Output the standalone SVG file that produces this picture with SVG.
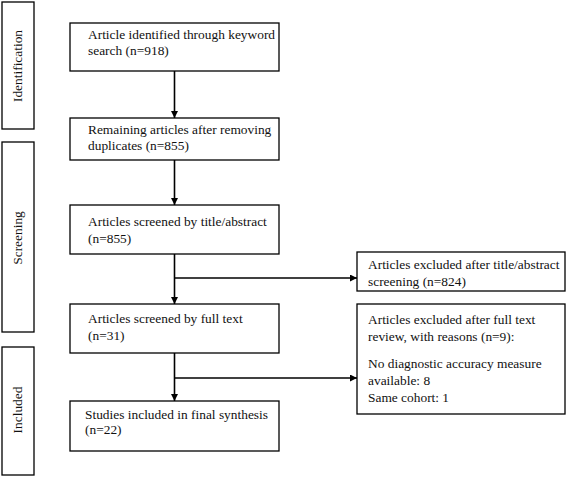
<svg xmlns="http://www.w3.org/2000/svg" width="567" height="477" viewBox="0 0 567 477">
<defs>
<style>
.b{fill:#fff;stroke:#000;stroke-width:1.3}
.t{font-family:"Liberation Serif","Times New Roman",serif;font-size:13.4px;fill:#111}
.c{fill:none;stroke:#000;stroke-width:1.6}
</style>
<marker id="ah" viewBox="0 0 10 10" refX="10" refY="5" markerWidth="7" markerHeight="7" markerUnits="userSpaceOnUse" orient="auto"><path d="M0,0 L10,5 L0,10 z" fill="#000"/></marker>
</defs>
<rect width="567" height="477" fill="#fff"/>
<g id="phase-identification"><rect class="b" x="2" y="2" width="32" height="127"/><text class="t" transform="translate(22,66) rotate(-90)" text-anchor="middle">Identification</text></g>
<g id="phase-screening"><rect class="b" x="2" y="142" width="32" height="190"/><text class="t" transform="translate(22,238) rotate(-90)" text-anchor="middle">Screening</text></g>
<g id="phase-included"><rect class="b" x="2" y="347" width="32" height="128"/><text class="t" transform="translate(22,410) rotate(-90)" text-anchor="middle">Included</text></g>
<g id="n1"><rect class="b" x="70" y="23" width="209" height="48"/><text class="t" x="88" y="39">Article identified through keyword</text><text class="t" x="88" y="55">search (n=918)</text></g>
<g id="n2"><rect class="b" x="70" y="118" width="209" height="42"/><text class="t" x="88" y="134">Remaining articles after removing</text><text class="t" x="88" y="150">duplicates (n=855)</text></g>
<g id="n3"><rect class="b" x="70" y="205" width="209" height="49"/><text class="t" x="88" y="226">Articles screened by title/abstract</text><text class="t" x="88" y="243">(n=855)</text></g>
<g id="n4"><rect class="b" x="70" y="304" width="209" height="49"/><text class="t" x="88" y="323">Articles screened by full text</text><text class="t" x="88" y="340">(n=31)</text></g>
<g id="n5"><rect class="b" x="70" y="401" width="209" height="50"/><text class="t" x="85" y="419">Studies included in final synthesis</text><text class="t" x="85" y="434">(n=22)</text></g>
<g id="x1"><rect class="b" x="357" y="252" width="208" height="39"/><text class="t" x="368" y="269">Articles excluded after title/abstract</text><text class="t" x="368" y="286">screening (n=824)</text></g>
<g id="x2"><rect class="b" x="357" y="304" width="208" height="110"/><text class="t" x="368" y="324">Articles excluded after full text</text><text class="t" x="368" y="341">review, with reasons (n=9):</text><text class="t" x="368" y="368">No diagnostic accuracy measure</text><text class="t" x="368" y="385">available: 8</text><text class="t" x="368" y="402">Same cohort: 1</text></g>
<g id="connectors">
<path class="c" d="M174.5,71 V118" marker-end="url(#ah)"/>
<path class="c" d="M174.5,160 V205" marker-end="url(#ah)"/>
<path class="c" d="M174.5,254 V304" marker-end="url(#ah)"/>
<path class="c" d="M174.5,278 H357" marker-end="url(#ah)"/>
<path class="c" d="M174.5,353 V401" marker-end="url(#ah)"/>
<path class="c" d="M174.5,378 H357" marker-end="url(#ah)"/>
</g>
</svg>
